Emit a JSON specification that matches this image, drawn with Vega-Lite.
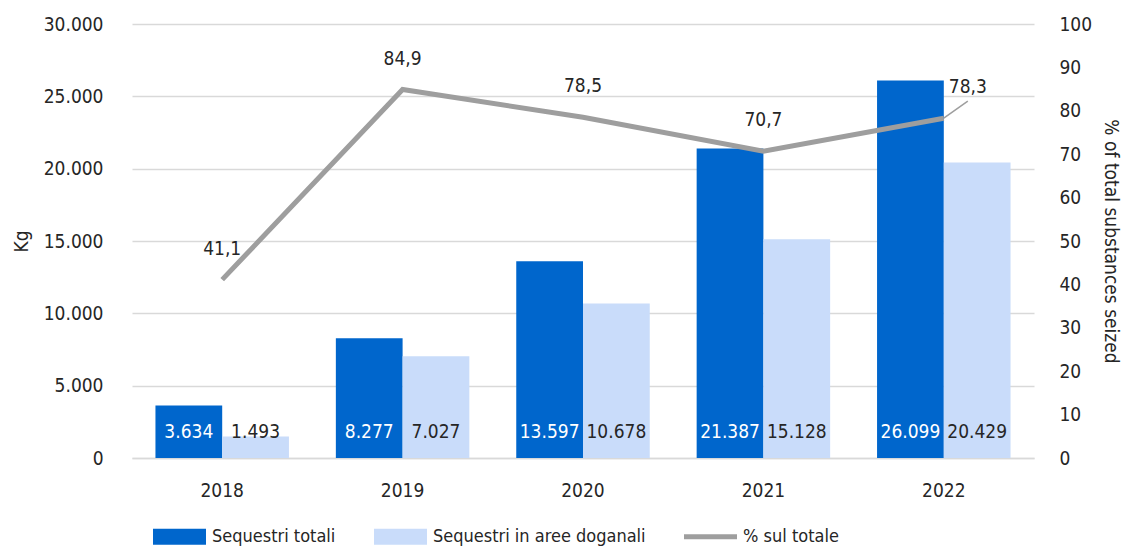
{
  "$schema": "https://vega.github.io/schema/vega-lite/v6.json",
  "width": 902,
  "height": 434,
  "autosize": {"type": "none"},
  "padding": {"left": 132, "top": 24, "right": 91, "bottom": 88},
  "background": "white",
  "config": {
    "locale": {"number": {"decimal": ",", "thousands": ".", "grouping": [3], "currency": ["", " €"]}},
    "view": {"stroke": null},
    "font": "Liberation Sans Narrow, DejaVu Sans Condensed, Roboto, sans-serif",
    "axis": {
      "labelFont": "Liberation Sans Narrow, DejaVu Sans Condensed, Roboto, sans-serif",
      "titleFont": "Liberation Sans Narrow, DejaVu Sans Condensed, Roboto, sans-serif",
      "labelFontSize": 19,
      "titleFontSize": 19,
      "titleFontWeight": "normal",
      "labelColor": "#262626",
      "titleColor": "#262626",
      "ticks": false
    }
  },
  "datasets": {
    "bars": [
      {"anno": "2018", "serie": "Sequestri totali", "kg": 3634},
      {"anno": "2018", "serie": "Sequestri in aree doganali", "kg": 1493},
      {"anno": "2019", "serie": "Sequestri totali", "kg": 8277},
      {"anno": "2019", "serie": "Sequestri in aree doganali", "kg": 7027},
      {"anno": "2020", "serie": "Sequestri totali", "kg": 13597},
      {"anno": "2020", "serie": "Sequestri in aree doganali", "kg": 10678},
      {"anno": "2021", "serie": "Sequestri totali", "kg": 21387},
      {"anno": "2021", "serie": "Sequestri in aree doganali", "kg": 15128},
      {"anno": "2022", "serie": "Sequestri totali", "kg": 26099},
      {"anno": "2022", "serie": "Sequestri in aree doganali", "kg": 20429}
    ],
    "pct": [
      {"anno": "2018", "pct": 41.1},
      {"anno": "2019", "pct": 84.9},
      {"anno": "2020", "pct": 78.5},
      {"anno": "2021", "pct": 70.7},
      {"anno": "2022", "pct": 78.3}
    ]
  },
  "layer": [
    {
      "data": {"name": "bars"},
      "encoding": {
        "x": {
          "field": "anno", "type": "nominal",
          "scale": {"paddingInner": 0.26, "paddingOuter": 0.13},
          "axis": {"title": null, "labelAngle": 0, "labelPadding": 23, "domainColor": "#d9d9d9", "domainWidth": 1.5, "grid": false}
        },
        "xOffset": {"field": "serie", "type": "nominal", "scale": {"domain": ["Sequestri totali", "Sequestri in aree doganali"], "paddingInner": 0}}
      },
      "layer": [
        {
          "mark": {"type": "bar"},
          "encoding": {
            "y": {
              "field": "kg", "type": "quantitative",
              "scale": {"domain": [0, 30000]},
              "axis": {"title": "Kg", "values": [0, 5000, 10000, 15000, 20000, 25000, 30000], "format": ",d", "grid": true, "gridColor": "#d9d9d9", "gridWidth": 1.5, "domain": false, "labelPadding": 29, "titlePadding": 12}
            },
            "color": {
              "field": "serie", "type": "nominal",
              "scale": {"domain": ["Sequestri totali", "Sequestri in aree doganali", "% sul totale"], "range": ["#0066CC", "#C9DCFA", "#9E9E9E"]},
              "legend": {
                "orient": "none", "legendX": 21, "legendY": 486,
                "direction": "horizontal", "title": null,
                "symbolSize": 2809, "symbolType": "M-1,-0.3H1V0.3H-1Z",
                "labelFont": "Liberation Sans Narrow, DejaVu Sans Condensed, Roboto, sans-serif", "labelFontSize": 18, "labelColor": "#262626",
                "labelLimit": 0,
                "labelOffset": 6, "columnPadding": 38,
                "encode": {
                  "symbols": {
                    "update": {
                      "shape": {"signal": "datum.value === '% sul totale' ? 'M-1,-0.095H1V0.095H-1Z' : 'M-1,-0.3H1V0.3H-1Z'"},
                      "fill": {"signal": "datum.value === 'Sequestri totali' ? '#0066CC' : datum.value === '% sul totale' ? '#9E9E9E' : '#C9DCFA'"},
                      "strokeWidth": {"value": 0},
                      "opacity": {"value": 1}
                    }
                  }
                }
              }
            }
          }
        },
        {
          "mark": {"type": "text", "dy": -26, "fontSize": 19, "baseline": "middle"},
          "encoding": {
            "y": {"datum": 0, "type": "quantitative"},
            "text": {"field": "kg", "type": "quantitative", "format": ",d"},
            "color": {"condition": {"test": "datum.serie === 'Sequestri totali'", "value": "white"}, "value": "#262626"}
          }
        }
      ]
    },
    {
      "data": {"name": "pct"},
      "encoding": {
        "x": {"field": "anno", "type": "nominal"},
        "y": {
          "field": "pct", "type": "quantitative",
          "scale": {"domain": [0, 100]},
          "axis": {"orient": "right", "title": "% of total substances seized", "values": [0, 10, 20, 30, 40, 50, 60, 70, 80, 90, 100], "grid": false, "domain": false, "labelPadding": 25, "titlePadding": 9}
        }
      },
      "layer": [
        {
          "mark": {"type": "line", "strokeWidth": 5},
          "encoding": {"color": {"datum": "% sul totale"}}
        },
        {
          "transform": [{"filter": "datum.anno === '2022'"}],
          "mark": {"type": "rule", "x2Offset": 24, "y2Offset": -17, "color": "#9E9E9E", "strokeWidth": 1.5},
          "encoding": {"x2": {"field": "anno"}, "y2": {"field": "pct"}}
        },
        {
          "transform": [{"filter": "datum.anno !== '2022'"}],
          "mark": {"type": "text", "dy": -31, "fontSize": 19, "baseline": "middle", "color": "#262626"},
          "encoding": {"text": {"field": "pct", "type": "quantitative", "format": ".1f"}}
        },
        {
          "transform": [{"filter": "datum.anno === '2022'"}],
          "mark": {"type": "text", "dx": 24, "dy": -31, "fontSize": 19, "baseline": "middle", "color": "#262626"},
          "encoding": {"text": {"field": "pct", "type": "quantitative", "format": ".1f"}}
        }
      ]
    }
  ],
  "resolve": {"scale": {"y": "independent"}}
}
